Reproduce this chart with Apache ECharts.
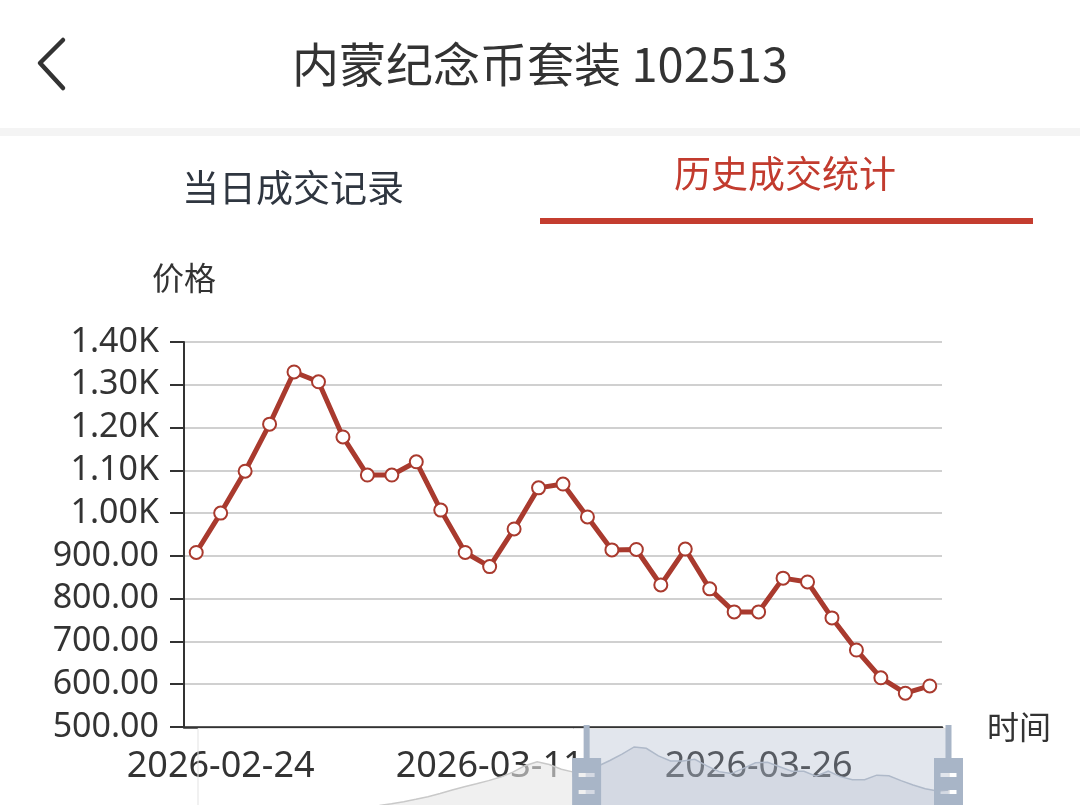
<!DOCTYPE html>
<html>
<head>
<meta charset="utf-8">
<script src="https://cdn.jsdelivr.net/npm/echarts@6/dist/echarts.min.js"></script>
<style>
  html, body { margin: 0; padding: 0; background: #fff; }
  body { width: 1080px; height: 805px; position: relative; overflow: hidden; font-family: "Noto Sans CJK SC", sans-serif; }
  #chart { position: absolute; left: 0; top: 0; width: 1080px; height: 805px; }
  .back { position: absolute; left: 30px; top: 30px; }
  .title { position: absolute; left: 0; width: 1080px; top: 30px; text-align: center; font-size: 47px; line-height: 64px; color: #333; }
  .sep { position: absolute; left: 0; top: 128px; width: 1080px; height: 8px; background: #f4f4f4; }
  .tab { position: absolute; font-size: 37px; line-height: 50px; text-align: center; width: 400px; }
  .tab-day { left: 93px; top: 161px; color: #2f3640; }
  .tab-his { left: 585px; top: 147px; color: #c23b2e; }
  .underline { position: absolute; left: 540px; top: 218px; width: 493px; height: 6px; background: #c43d2f; }
</style>
</head>
<body>
<div id="chart"></div>
<!-- 顶部 -->
<svg class="back" width="50" height="70" viewBox="0 0 50 70">
  <polyline points="33,10 10,33 33,58" fill="none" stroke="#333" stroke-width="4.5" stroke-linecap="round" stroke-linejoin="round"/>
</svg>
<div class="title">内蒙纪念币套装 102513</div>
<div class="sep"></div>
<div class="tab tab-day">当日成交记录</div>
<div class="tab tab-his">历史成交统计</div>
<div class="underline"></div>
<script>
// 日期 (交易日)
const dates = [
  '2026-01-08', '2026-01-09', '2026-01-12', '2026-01-13', '2026-01-14', '2026-01-15', '2026-01-16',
  '2026-01-19', '2026-01-20', '2026-01-21', '2026-01-22', '2026-01-23', '2026-01-26', '2026-01-27',
  '2026-01-28', '2026-01-29', '2026-01-30', '2026-02-02', '2026-02-03', '2026-02-04', '2026-02-05',
  '2026-02-06', '2026-02-09', '2026-02-10', '2026-02-11', '2026-02-12', '2026-02-13', '2026-02-16',
  '2026-02-17', '2026-02-18', '2026-02-19', '2026-02-20',
  '2026-02-23', '2026-02-24', '2026-02-25', '2026-02-26', '2026-02-27', '2026-03-02', '2026-03-03',
  '2026-03-04', '2026-03-05', '2026-03-06', '2026-03-09', '2026-03-10', '2026-03-11', '2026-03-12',
  '2026-03-13', '2026-03-16', '2026-03-17', '2026-03-18', '2026-03-19', '2026-03-20', '2026-03-23',
  '2026-03-24', '2026-03-25', '2026-03-26', '2026-03-27', '2026-03-30', '2026-03-31', '2026-04-01',
  '2026-04-02', '2026-04-03', '2026-04-06'
];
// 早期价格, 只在缩放条的阴影里能看到一部分
const earlyPrices = [
  255, 252, 258, 262, 260, 268, 272, 270, 278, 285, 290, 295, 300, 310, 318,
  330, 360, 395, 435, 480, 535, 595, 650, 700, 755, 815, 900, 1010, 1075, 1030, 950, 900
];
// 图上显示的价格
const shownPrices = [
  908, 1000, 1098, 1208, 1330, 1307, 1178, 1089, 1089, 1120, 1007, 908, 875, 963, 1059, 1068,
  991, 914, 915, 832, 916, 823, 769, 769, 848, 839, 755, 680, 615, 579, 596
];
const prices = earlyPrices.concat(shownPrices);
const windowStart = earlyPrices.length;
const windowEnd = prices.length - 1;

const lineColor = '#a93a2e';
const axisColor = '#333';

const chart = echarts.init(document.getElementById('chart'));
chart.setOption({
  animation: false,
  grid: { left: 184, right: 138, top: 342, height: 385 },
  xAxis: {
    type: 'category',
    data: dates,
    boundaryGap: true,
    name: '时间',
    nameLocation: 'end',
    nameGap: 45,
    nameTextStyle: { fontSize: 32, color: axisColor, fontFamily: 'Noto Sans CJK SC', verticalAlign: 'middle' },
    axisLine: { lineStyle: { color: axisColor, width: 2.5 } },
    axisTick: { length: 13, lineStyle: { color: axisColor, width: 2.5 } },
    axisLabel: { interval: 10, fontSize: 36, color: axisColor, fontFamily: 'Noto Sans', margin: 22 }
  },
  yAxis: {
    type: 'value',
    min: 500,
    max: 1400,
    interval: 100,
    name: '价格',
    nameGap: 48,
    nameTextStyle: { fontSize: 32, color: axisColor, fontFamily: 'Noto Sans CJK SC' },
    axisLine: { show: true, lineStyle: { color: axisColor, width: 2 } },
    axisTick: { show: true, length: 14, lineStyle: { color: axisColor, width: 2 } },
    axisLabel: {
      fontSize: 34, color: axisColor, fontFamily: 'Noto Sans', margin: 25,
      formatter: v => v >= 1000 ? (v / 1000).toFixed(2) + 'K' : v.toFixed(2)
    },
    splitLine: { lineStyle: { color: '#d0d0d0', width: 2 } }
  },
  dataZoom: [{
    type: 'slider',
    xAxisIndex: 0,
    startValue: windowStart,
    endValue: windowEnd,
    left: 195,
    right: 133,
    top: 728,
    height: 101,
    showDetail: false,
    brushSelect: false,
    backgroundColor: 'rgba(0,0,0,0)',
    borderColor: '#e3e3e3',
    fillerColor: 'rgba(165,178,200,0.32)',
    dataBackground: {
      lineStyle: { color: '#c9c9c9', width: 1.5 },
      areaStyle: { color: '#e6e6e6', opacity: 0.6 }
    },
    selectedDataBackground: {
      lineStyle: { color: '#b4bdca', width: 1.5 },
      areaStyle: { color: '#b8c1ce', opacity: 0.3 }
    },
    // 把手 (图标会被上下翻转): 带两道白杠的块 + 细线
    handleIcon: 'path://M-14.5,0H14.5V74H3V107H-3V74H-14.5Z M-8,38V42H8V38Z M-8,55V59H8V55Z',
    handleSize: 107,
    handleStyle: { color: '#a8b5c7', borderColor: '#a8b5c7', borderWidth: 0 },
    moveHandleStyle: { color: '#a8b5c7' }
  }],
  series: [{
    type: 'line',
    data: prices,
    symbol: 'emptyCircle',
    symbolSize: 13,
    showAllSymbol: true,
    lineStyle: { color: lineColor, width: 5 },
    itemStyle: { color: lineColor, borderColor: lineColor, borderWidth: 3 }
  }]
});
</script>
</body>
</html>
